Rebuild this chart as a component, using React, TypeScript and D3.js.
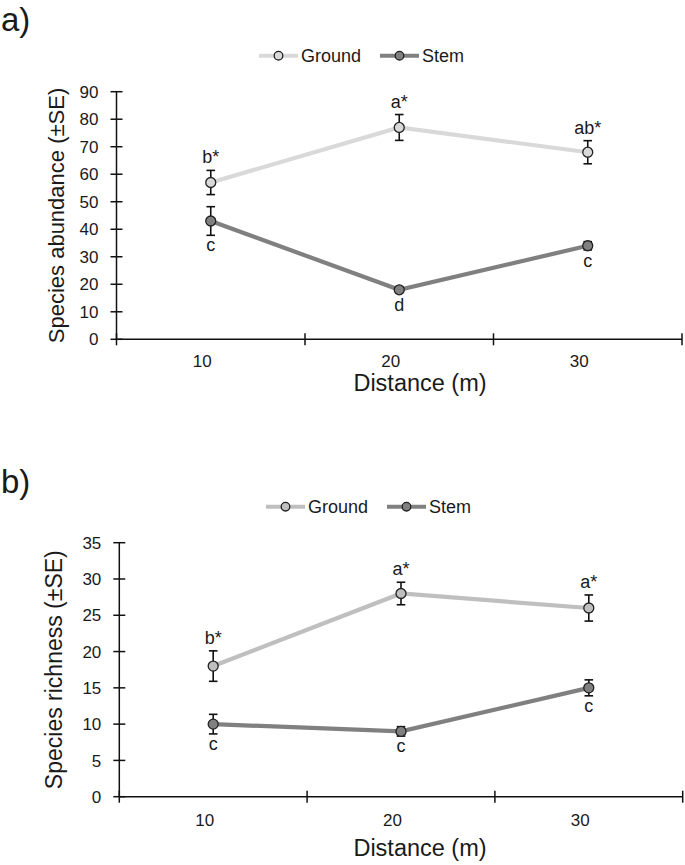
import React from "react";
import * as d3 from "d3";

const distances = ["10", "20", "30"];
const seriesNames = ["Ground", "Stem"];

const abundanceGround = [57, 77, 68];
const abundanceGroundSE = [4.4, 4.7, 4.2];
const abundanceStem = [43, 18, 34];
const abundanceStemSE = [5.2, 0.9, 1.5];
const abundanceGroundLetters = ["b*", "a*", "ab*"];
const abundanceStemLetters = ["c", "d", "c"];
const abundanceTicks = [0, 10, 20, 30, 40, 50, 60, 70, 80, 90];

const richnessGround = [18, 28, 26];
const richnessGroundSE = [2.1, 1.55, 1.8];
const richnessStem = [10, 9, 15];
const richnessStemSE = [1.35, 0.65, 1.1];
const richnessGroundLetters = ["b*", "a*", "a*"];
const richnessStemLetters = ["c", "c", "c"];
const richnessTicks = [0, 5, 10, 15, 20, 25, 30, 35];

const FONT = "'Liberation Sans', Arial, sans-serif";
const TXT = "#1a1a1a";

type PanelProps = {
  label: string;
  labelY: number;
  x0: number;
  x1: number;
  yTop: number;
  yBottom: number;
  yMax: number;
  ticks: number[];
  yTitle: string;
  yTitleSize: number;
  yTitleX: number;
  ground: number[];
  groundSE: number[];
  stem: number[];
  stemSE: number[];
  groundLetters: string[];
  stemLetters: string[];
  groundColor: string;
  stemColor: string;
  legendY: number;
  legendX: number;
  tickLabelY: number;
  xTitleY: number;
};

function Panel(p: PanelProps) {
  const x = d3.scaleBand<string>().domain(distances).range([p.x0, p.x1]).paddingInner(0).paddingOuter(0);
  const y = d3.scaleLinear().domain([0, p.yMax]).range([p.yBottom, p.yTop]);
  const cx = (d: string) => (x(d) as number) + x.bandwidth() / 2;
  const line = d3
    .line<number>()
    .x((_, i) => cx(distances[i]))
    .y((v) => y(v));
  const boundaries = [p.x0, ...distances.map((d) => (x(d) as number) + x.bandwidth())];
  const series = [
    { name: seriesNames[0], vals: p.ground, se: p.groundSE, color: p.groundColor, letters: p.groundLetters, above: true },
    { name: seriesNames[1], vals: p.stem, se: p.stemSE, color: p.stemColor, letters: p.stemLetters, above: false },
  ];
  const r = 5;
  const cap = 4.3;
  const yMid = (p.yTop + p.yBottom) / 2;
  const legendItems = [
    { name: seriesNames[0], color: p.groundColor, lx: p.legendX },
    { name: seriesNames[1], color: p.stemColor, lx: p.legendX + 121 },
  ];
  return (
    <g fontFamily={FONT} fill={TXT}>
      <text x={1} y={p.labelY} fontSize={33}>{p.label}</text>
      {/* legend */}
      {legendItems.map((it) => (
        <g key={it.name}>
          <line x1={it.lx} x2={it.lx + 39} y1={p.legendY} y2={p.legendY} stroke={it.color} strokeWidth={4} />
          <circle cx={it.lx + 19.5} cy={p.legendY} r={4.3} fill={it.color} stroke="#222" strokeWidth={1.3} />
          <text x={it.lx + 42} y={p.legendY} dy="0.36em" fontSize={18}>{it.name}</text>
        </g>
      ))}
      {/* y axis */}
      <line x1={p.x0} x2={p.x0} y1={p.yTop} y2={p.yBottom} stroke="#111" strokeWidth={1.5} />
      {p.ticks.map((t) => (
        <g key={t}>
          <line x1={p.x0 - 6} x2={p.x0 + 6} y1={y(t)} y2={y(t)} stroke="#111" strokeWidth={1.5} />
          <text x={p.x0 - 18} y={y(t)} dy="0.36em" textAnchor="end" fontSize={17}>{t}</text>
        </g>
      ))}
      <text
        transform={`translate(${p.yTitleX},${yMid}) rotate(-90)`}
        textAnchor="middle"
        fontSize={p.yTitleSize}
      >
        {p.yTitle}
      </text>
      {/* x axis */}
      <line x1={p.x0} x2={p.x1} y1={p.yBottom} y2={p.yBottom} stroke="#111" strokeWidth={1.5} />
      {boundaries.map((b, i) => (
        <line key={i} x1={b} x2={b} y1={p.yBottom - 6} y2={p.yBottom + 6} stroke="#111" strokeWidth={1.5} />
      ))}
      {distances.map((d) => (
        <text key={d} x={cx(d) - 8.5} y={p.tickLabelY} textAnchor="middle" fontSize={17}>{d}</text>
      ))}
      <text x={420} y={p.xTitleY} textAnchor="middle" fontSize={23.5}>Distance (m)</text>
      {/* lines */}
      {series.map((s) => (
        <path key={s.name} d={line(s.vals) || ""} fill="none" stroke={s.color} strokeWidth={4.2} />
      ))}
      {/* error bars */}
      {series.map((s) =>
        s.vals.map((v, i) => {
          const px = cx(distances[i]);
          const hi = y(v + s.se[i]);
          const lo = y(v - s.se[i]);
          return (
            <g key={s.name + i} stroke="#111" strokeWidth={1.6}>
              <line x1={px} x2={px} y1={hi} y2={lo} />
              <line x1={px - cap} x2={px + cap} y1={hi} y2={hi} />
              <line x1={px - cap} x2={px + cap} y1={lo} y2={lo} />
            </g>
          );
        })
      )}
      {/* markers */}
      {series.map((s) =>
        s.vals.map((v, i) => (
          <circle key={s.name + "m" + i} cx={cx(distances[i])} cy={y(v)} r={r} fill={s.color} stroke="#222" strokeWidth={1.3} />
        ))
      )}
      {/* letters */}
      {series.map((s) =>
        s.vals.map((v, i) => {
          const px = cx(distances[i]);
          const ty = s.above
            ? Math.min(y(v + s.se[i]), y(v) - r) - 7
            : Math.max(y(v - s.se[i]), y(v) + r) + 16;
          return (
            <text key={s.name + "l" + i} x={px} y={ty} textAnchor="middle" fontSize={18}>
              {s.letters[i]}
            </text>
          );
        })
      )}
    </g>
  );
}

export default function App() {
  return (
    <svg width={685} height={865} style={{ display: "block", position: "absolute", left: 0, top: 0, background: "#fff" }}>
      <rect width={685} height={865} fill="#fff" />
      <Panel
        label="a)"
        labelY={31}
        x0={116.5}
        x1={682}
        yTop={91.7}
        yBottom={339.3}
        yMax={90}
        ticks={abundanceTicks}
        yTitle="Species abundance (±SE)"
        yTitleSize={22}
        yTitleX={63.5}
        ground={abundanceGround}
        groundSE={abundanceGroundSE}
        stem={abundanceStem}
        stemSE={abundanceStemSE}
        groundLetters={abundanceGroundLetters}
        stemLetters={abundanceStemLetters}
        groundColor="#d9d9d9"
        stemColor="#808080"
        legendY={55.7}
        legendX={259}
        tickLabelY={366.5}
        xTitleY={391}
      />
      <Panel
        label="b)"
        labelY={493}
        x0={119.3}
        x1={682.7}
        yTop={542.7}
        yBottom={796.7}
        yMax={35}
        ticks={richnessTicks}
        yTitle="Species richness (±SE)"
        yTitleSize={23}
        yTitleX={61.5}
        ground={richnessGround}
        groundSE={richnessGroundSE}
        stem={richnessStem}
        stemSE={richnessStemSE}
        groundLetters={richnessGroundLetters}
        stemLetters={richnessStemLetters}
        groundColor="#bfbfbf"
        stemColor="#808080"
        legendY={506.7}
        legendX={266}
        tickLabelY={826}
        xTitleY={856}
      />
    </svg>
  );
}
